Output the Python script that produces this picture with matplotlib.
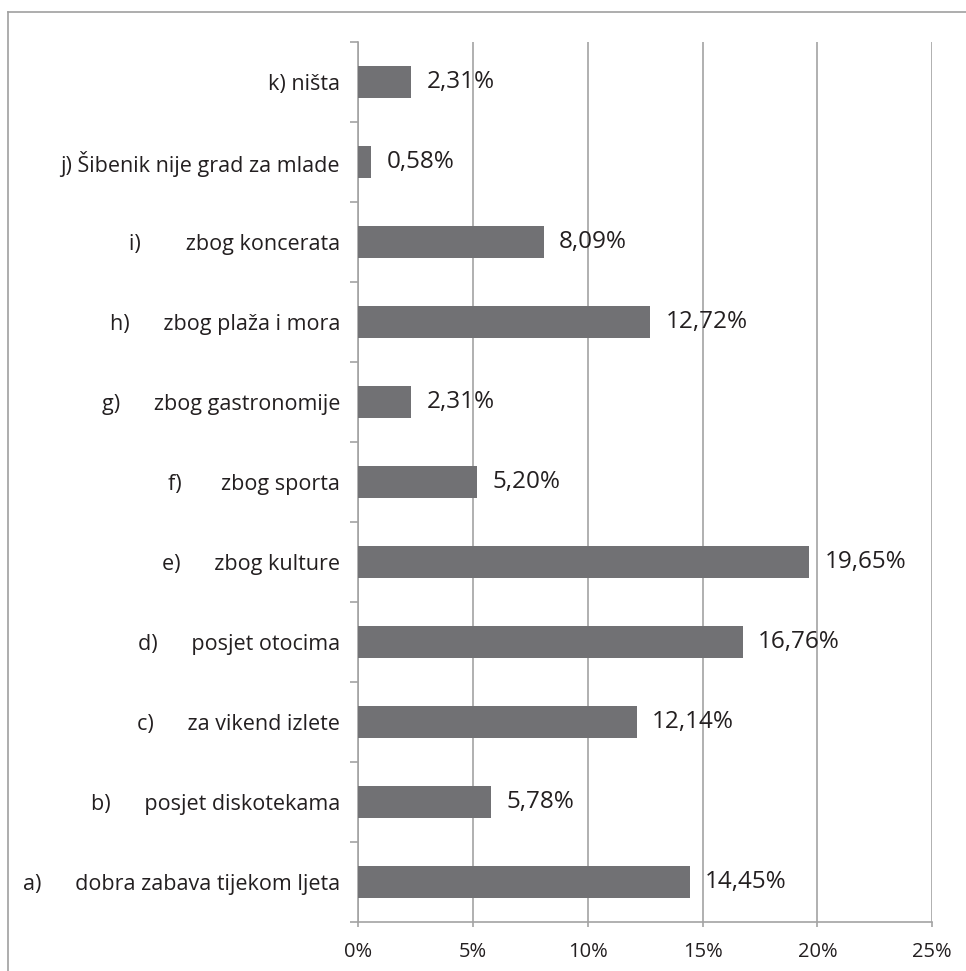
import matplotlib
matplotlib.use("Agg")
import matplotlib.pyplot as plt
import numpy as np

plt.rcParams['font.family'] = ['Open Sans', 'DejaVu Sans']

# categories listed bottom -> top
letters = ["a)", "b)", "c)", "d)", "e)", "f)", "g)", "h)", "i)", "j)", "k)"]
texts = ["dobra zabava tijekom ljeta", "posjet diskotekama", "za vikend izlete",
         "posjet otocima", "zbog kulture", "zbog sporta", "zbog gastronomije",
         "zbog plaža i mora", "zbog koncerata", "Šibenik nije grad za mlade", "ništa"]
gaps = [6, 6, 6, 6, 6, 7, 6, 6, 8, 1, 1]
values = [14.45, 5.78, 12.14, 16.76, 19.65, 5.20, 2.31, 12.72, 8.09, 0.58, 2.31]
xticks = [0, 5, 10, 15, 20, 25]

txt_col = "#231f20"
grid_col = "#a3a3a3"
bar_col = "#717174"

fig = plt.figure(figsize=(9.66, 9.71), dpi=100)
ax = fig.add_axes([0.3706, 0.0508, 0.5945, 0.9063])

y = np.arange(len(values))
ax.barh(y, values, height=0.4, color=bar_col, zorder=3)

for yi, v in zip(y, values):
    ax.annotate(f"{v:.2f}%".replace(".", ","), (v, yi), xytext=(11, 0),
                textcoords="offset points", va="center", ha="left",
                fontsize=17.5, color=txt_col, zorder=4)

labels = [l + " " * g + t for l, g, t in zip(letters, gaps, texts)]
ax.set_yticks(y)
ax.set_yticklabels(labels, fontsize=15.5, color=txt_col)
ax.set_yticks(np.arange(-0.5, len(values), 1.0), minor=True)
ax.tick_params(axis="y", which="major", length=0, pad=13)
ax.tick_params(axis="y", which="minor", length=6, width=1.2, color=grid_col, direction="out")

ax.set_xlim(0, 25)
ax.set_ylim(-0.5, len(values) - 0.5)
ax.set_xticks(xticks)
ax.set_xticklabels([f"{t}%" for t in xticks], fontsize=14.5, color=txt_col)
ax.tick_params(axis="x", length=3.5, width=1.2, color=grid_col, pad=11)

ax.grid(axis="x", color=grid_col, linewidth=1.2, zorder=1)
ax.set_axisbelow(True)
for s in ["top", "right"]:
    ax.spines[s].set_visible(False)
for s in ["left", "bottom"]:
    ax.spines[s].set_color(grid_col)
    ax.spines[s].set_linewidth(1.2)
    ax.spines[s].set_zorder(2)

# outer frame (left and top edges only visible)
fig.add_artist(plt.Line2D([8.3 / 966, 8.3 / 966], [0, 1 - 12.3 / 971], transform=fig.transFigure,
                          color="#a0a0a0", linewidth=1.2))
fig.add_artist(plt.Line2D([8.3 / 966, 1], [1 - 12.3 / 971, 1 - 12.3 / 971], transform=fig.transFigure,
                          color="#a0a0a0", linewidth=1.2))

fig.savefig("out.png", dpi=100)
